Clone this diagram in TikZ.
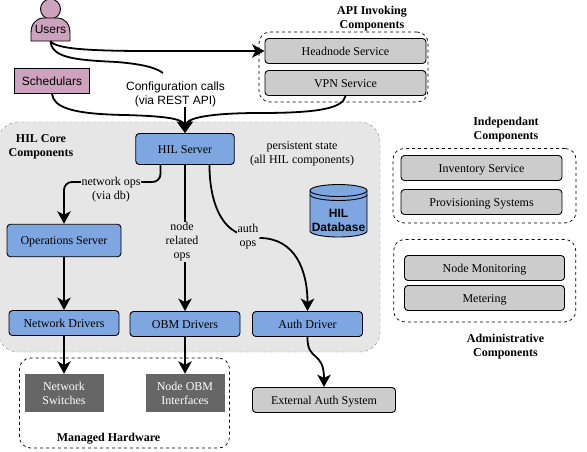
\documentclass[tikz,border=0pt]{standalone}
\usepackage{fontspec}
\setmainfont{Liberation Serif}
\setsansfont{Liberation Sans}
\usetikzlibrary{arrows.meta}
\definecolor{userpink}{HTML}{CDA2BE}
\definecolor{corefill}{HTML}{E6E6E6}
\definecolor{coreblue}{HTML}{7EA6E0}
\definecolor{svcgray}{HTML}{CCCCCC}
\definecolor{hwgray}{HTML}{666666}
\begin{document}
\begin{tikzpicture}[x=1pt,y=-1pt,
  font=\fontsize{12}{14}\selectfont,
  box/.style={draw,line width=0.9pt,rounded corners=3.5pt,inner sep=0pt,text height=10pt,text depth=2pt},
  corebox/.style={box,fill=coreblue},
  svcbox/.style={box,fill=svcgray},
  pinkbox/.style={draw,fill=userpink,line width=0.9pt,inner sep=0pt,font=\fontsize{12}{14}\selectfont\sffamily,text height=10pt,text depth=2pt},
  hwbox/.style={fill=hwgray,text=white,inner sep=0pt,align=center,minimum width=79pt,minimum height=38pt},
  group/.style={draw,dashed,line width=0.7pt,rounded corners=11pt,inner sep=0pt},
  grouptitle/.style={font=\fontsize{12}{14}\selectfont\bfseries,align=center,inner sep=0pt},
  flowlabel/.style={fill=corefill,align=center,inner sep=1pt},
  conn/.style={line width=1.8pt,-{Stealth[length=12.5pt,width=13.5pt,inset=3.5pt]}},
  plainconn/.style={line width=1.8pt}]
\useasboundingbox (0,0) rectangle (587,451);
% groups
\node[draw=black!45,dashed,fill=corefill,rounded corners=20pt,minimum width=382pt,minimum height=230pt] (core) at (189,237) {};
\node[group,minimum width=169pt,minimum height=70pt] (apigroup) at (343.5,67) {};
\node[group,minimum width=183pt,minimum height=74.5pt] (indepgroup) at (484.5,185.7) {};
\node[group,minimum width=182pt,minimum height=82.5pt] (admingroup) at (484.7,280.7) {};
\node[group,minimum width=210pt,minimum height=90pt] (hwgroup) at (124.5,403) {};
% users
\node[draw,fill=userpink,line width=0.9pt,circle,minimum size=20pt,inner sep=0pt] (userhead) at (50.5,9) {};
\draw[fill=userpink,line width=0.9pt] (31,41) -- (31,33) .. controls (31,24) and (36,18) .. (44,18) -- (57,18) .. controls (65,18) and (70,24) .. (70,33) -- (70,41) -- cycle;
\node[font=\fontsize{12}{14}\selectfont\sffamily,minimum width=39pt,minimum height=24pt,inner sep=0pt,text height=10pt,text depth=2pt] (users) at (50.5,29) {Users};
\node[pinkbox,minimum width=75pt,minimum height=25pt] (schedulars) at (52,81) {Schedulars};
% services
\node[svcbox,minimum width=161pt,minimum height=25pt] (headnode) at (345.5,51) {Headnode Service};
\node[svcbox,minimum width=161pt,minimum height=25pt] (vpn) at (345.5,83) {VPN Service};
\node[svcbox,minimum width=161pt,minimum height=25pt] (inventory) at (481.5,168) {Inventory Service};
\node[svcbox,minimum width=161pt,minimum height=25pt] (provisioning) at (481.5,202) {Provisioning Systems};
\node[svcbox,minimum width=160pt,minimum height=25pt] (monitoring) at (484.5,268) {Node Monitoring};
\node[svcbox,minimum width=160pt,minimum height=25pt] (metering) at (484.5,298) {Metering};
\node[svcbox,minimum width=143pt,minimum height=25pt] (external) at (324,400) {External Auth System};
% core
\node[corebox,minimum width=98.5pt,minimum height=31pt] (hilserver) at (185,149) {HIL Server};
\node[corebox,minimum width=114pt,minimum height=32.5pt] (opsserver) at (64,240.5) {Operations Server};
\node[corebox,minimum width=110pt,minimum height=25pt] (netdrivers) at (64,323) {Network Drivers};
\node[corebox,minimum width=110pt,minimum height=25pt] (obmdrivers) at (185,324) {OBM Drivers};
\node[corebox,minimum width=110pt,minimum height=25pt] (authdriver) at (307.5,324) {Auth Driver};
\node[hwbox] (switches) at (64,393) {Network\\Switches};
\node[hwbox] (obmif) at (185,393) {Node OBM\\Interfaces};
% database
\draw[fill=coreblue,line width=0.9pt] (310,190.5) -- (310,231) arc[start angle=180,end angle=360,x radius=28.5pt,y radius=6pt] -- (367,190.5) arc[start angle=0,end angle=180,x radius=28.5pt,y radius=6pt] -- cycle;
\draw[line width=0.9pt] (310,190.5) arc[start angle=180,end angle=360,x radius=28.5pt,y radius=6pt];
\draw[line width=0.9pt] (310,194.5) arc[start angle=180,end angle=360,x radius=28.5pt,y radius=6pt];
\node[font=\fontsize{12}{14}\selectfont\sffamily\bfseries,align=center,inner sep=0pt] (hildb) at (338.5,220) {HIL\\Database};
% labels
\node[font=\fontsize{12}{14}\selectfont\sffamily,align=center,inner sep=0pt] (config) at (175.5,94) {Configuration calls\\(via REST API)};
\coordinate (configend) at (163,73);
\coordinate (authin) at (238,233);
\coordinate (authout) at (259.5,238);
% connectors
\draw[conn] (users.south) .. controls (56,49) and (90,51) .. (150,51) -- (headnode.west);
\draw[plainconn] (users.south) .. controls (52,58) and (75,60) .. (117,62) .. controls (140,64) and (155,67) .. (configend);
\draw[conn] (schedulars.south) .. controls (54,107) and (70,114) .. (125,115) .. controls (160,116) and (183,118) .. (hilserver.north);
\draw[conn] (vpn.south) .. controls (343,108) and (320,113) .. (260,113) .. controls (215,113) and (187,117) .. (hilserver.north);
\draw[conn] (config.south -| hilserver.north) -- (hilserver.north);
\draw[conn,rounded corners=8pt] ([xshift=-24.5pt]hilserver.south) -- (160.5,182) -- (64,182) -- (opsserver.north);
\draw[conn] (hilserver.south) -- (obmdrivers.north);
\draw[plainconn] ([xshift=24.5pt]hilserver.south) .. controls (209.5,200) and (220,225) .. (authin);
\draw[conn] (authout) .. controls (295,238) and (307.5,270) .. (authdriver.north);
\draw[conn] (opsserver.south) -- (netdrivers.north);
\draw[conn] (netdrivers.south) -- (switches.north);
\draw[conn] (obmdrivers.south) -- (obmif.north);
\draw[conn] (authdriver.south) .. controls (307,362) and (324,350) .. (external.north);
% labels on top of connectors
\node[flowlabel] (netops) at (111,190) {network ops\\(via db)};
\node[flowlabel] (nodeops) at (182,242) {node\\related\\ops};
\node[flowlabel] (authops) at (248,237) {auth\\ops};
\node[inner sep=0pt,align=center] (persist) at (302,154) {persistent state\\(all HIL components)};
\node[grouptitle] (apititle) at (372,19) {API Invoking\\Components};
\node[grouptitle] (indeptitle) at (506,130) {Independant\\Components};
\node[grouptitle] (admintitle) at (505.5,347) {Administrative\\Components};
\node[grouptitle] (coretitle) at (41,147) {HIL Core\\Components};
\node[grouptitle] (hwtitle) at (108.5,438.5) {Managed Hardware};
\end{tikzpicture}
\end{document}
